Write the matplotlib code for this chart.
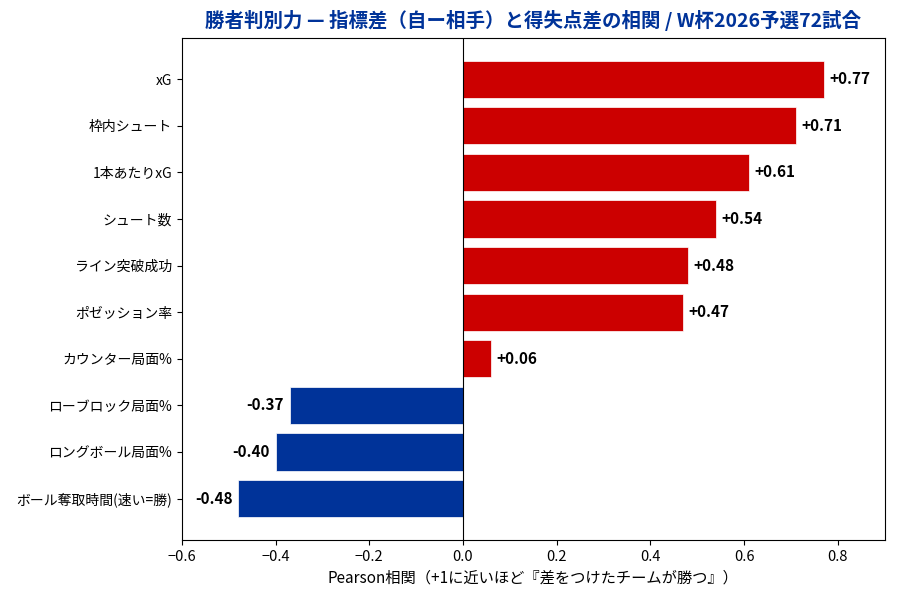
import matplotlib
matplotlib.use("Agg")
import matplotlib.pyplot as plt

plt.rcParams['font.family'] = ['Noto Sans CJK JP', 'DejaVu Sans']

labels = ['xG', '枠内シュート', '1本あたりxG', 'シュート数', 'ライン突破成功',
          'ポゼッション率', 'カウンター局面%', 'ローブロック局面%',
          'ロングボール局面%', 'ボール奪取時間(速い=勝)']
values = [0.77, 0.71, 0.61, 0.54, 0.48, 0.47, 0.06, -0.37, -0.40, -0.48]

red = '#CC0000'
blue = '#003399'
colors = [red if v > 0 else blue for v in values]

fig = plt.figure(figsize=(9, 6), dpi=100)
ax = fig.add_axes([0.202, 0.1, 0.781, 0.837])

ypos = list(range(len(labels)))
ax.barh(ypos, values, height=0.8, color=colors, edgecolor='white', linewidth=0.5)
ax.axvline(0, color='black', linewidth=0.8)
ax.set_yticks(ypos)
ax.set_yticklabels(labels, fontsize=10)
ax.invert_yaxis()
ax.set_xlim(-0.6, 0.9)
ax.set_xticks([-0.6, -0.4, -0.2, 0.0, 0.2, 0.4, 0.6, 0.8])
ax.tick_params(axis='x', labelsize=10.5)

for y, v in zip(ypos, values):
    if v > 0:
        ax.text(v + 0.012, y, f'+{v:.2f}', va='center', ha='left',
                fontsize=11, fontweight='bold')
    else:
        ax.text(v - 0.012, y, f'{v:.2f}', va='center', ha='right',
                fontsize=11, fontweight='bold')

ax.set_xlabel('Pearson相関（+1に近いほど『差をつけたチームが勝つ』）', fontsize=11)
ax.set_title('勝者判別力 — 指標差（自ー相手）と得失点差の相関 / W杯2026予選72試合',
             fontsize=14, fontweight='bold', color=blue, pad=8)

fig.savefig('out.png', dpi=100)
